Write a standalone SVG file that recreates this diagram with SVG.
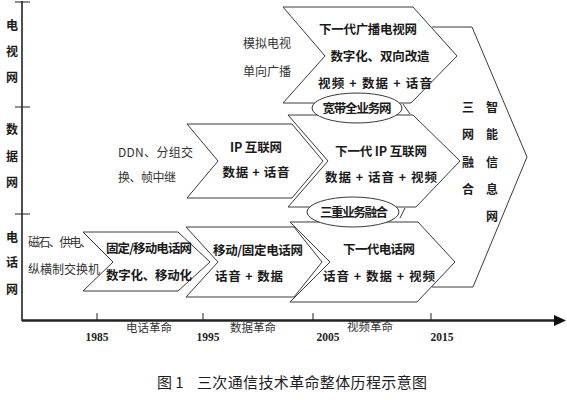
<svg xmlns="http://www.w3.org/2000/svg" width="567" height="400" viewBox="0 0 567 400">
<style>
.shape{fill:#fff;stroke:#3a3a3a;stroke-width:1}
.ax{stroke:#222;fill:none}
.t{font-family:"Noto Sans CJK SC","Noto Sans",sans-serif;fill:#1e1e1e}
.b{font-family:"Noto Sans CJK SC","Noto Sans",sans-serif;font-size:12.5px;font-weight:bold;fill:#1a1a1a;text-anchor:middle}
.bs{font-family:"Noto Sans CJK SC","Noto Sans",sans-serif;font-size:12.5px;font-weight:bold;fill:#1a1a1a}
.n{font-family:"Noto Sans CJK SC","Noto Sans",sans-serif;font-size:12px;fill:#333}
.lab{font-family:"Noto Sans CJK SC",sans-serif;font-size:12px;font-weight:bold;fill:#1a1a1a;text-anchor:middle}
.yr{font-family:"Liberation Serif","Noto Sans CJK SC",serif;font-size:11.5px;font-weight:bold;fill:#222;text-anchor:middle}
.rev{font-family:"Noto Sans CJK SC",sans-serif;font-size:11.5px;fill:#333;text-anchor:middle}
</style>
<rect width="567" height="400" fill="#fff"/>

<g id="axes">
  <line class="ax" x1="22" y1="1" x2="22" y2="321" stroke-width="1.6"/>
  <line class="ax" x1="15" y1="2" x2="30" y2="2" stroke-width="1"/>
  <line class="ax" x1="15" y1="107" x2="30" y2="107" stroke-width="1"/>
  <line class="ax" x1="15" y1="214" x2="30" y2="214" stroke-width="1"/>
  <line class="ax" x1="22" y1="320.5" x2="557" y2="320.5" stroke-width="2.4"/>
  <polygon points="554,315 566,320.5 554,326" fill="#111"/>
  <line class="ax" x1="97" y1="313" x2="97" y2="320" stroke-width="1"/>
  <line class="ax" x1="203" y1="313" x2="203" y2="320" stroke-width="1"/>
  <line class="ax" x1="313" y1="313" x2="313" y2="320" stroke-width="1"/>
  <line class="ax" x1="431" y1="313" x2="431" y2="320" stroke-width="1"/>
  <text class="lab" x="12" y="30">电</text>
  <text class="lab" x="12" y="56">视</text>
  <text class="lab" x="12" y="82">网</text>
  <text class="lab" x="12" y="134">数</text>
  <text class="lab" x="12" y="161">据</text>
  <text class="lab" x="12" y="187">网</text>
  <text class="lab" x="12" y="242">电</text>
  <text class="lab" x="12" y="267">话</text>
  <text class="lab" x="12" y="294">网</text>
  <text class="yr" x="97" y="341">1985</text>
  <text class="yr" x="208" y="341">1995</text>
  <text class="yr" x="328" y="341">2005</text>
  <text class="yr" x="442" y="341">2015</text>
  <text class="rev" x="149" y="332">电话革命</text>
  <text class="rev" x="253" y="332">数据革命</text>
  <text class="rev" x="370" y="331">视频革命</text>
</g>

<g id="smart-network">
  <path class="shape" d="M432,27 L472,27 L527,157 L473,287 L432,287"/>
  <text class="lab" x="468" y="112">三</text>
  <text class="lab" x="468" y="139">网</text>
  <text class="lab" x="468" y="167">融</text>
  <text class="lab" x="468" y="194">合</text>
  <text class="lab" x="492" y="112">智</text>
  <text class="lab" x="492" y="139">能</text>
  <text class="lab" x="492" y="167">信</text>
  <text class="lab" x="492" y="194">息</text>
  <text class="lab" x="492" y="221">网</text>
</g>

<g id="tv-next">
  <polygon class="shape" points="283,7 413,7 457,56 411,103 283,103 325,56"/>
  <text class="b" x="368" y="34" textLength="98">下一代广播电视网</text>
  <text class="b" x="380" y="61" textLength="99">数字化、双向改造</text>
  <text class="b" x="375" y="88" textLength="114">视频 + 数据 + 话音</text>
</g>

<g id="ip-next">
  <polygon class="shape" points="288,115 413,115 460,161 416,207 288,207 328,161"/>
  <text class="b" x="381" y="156" textLength="92">下一代 IP 互联网</text>
  <text class="b" x="381" y="182" textLength="112">数据 + 话音 + 视频</text>
</g>

<g id="phone-next">
  <polygon class="shape" points="290,222 418,222 455,262 417,302 290,302 330,262"/>
  <text class="b" x="379" y="254" textLength="72">下一代电话网</text>
  <text class="b" x="379" y="281" textLength="112">话音 + 数据 + 视频</text>
</g>

<g id="ip-internet">
  <polygon class="shape" points="187,124 292,124 323,161 292,198 187,198 218,161"/>
  <text class="b" x="256" y="152" textLength="52">IP 互联网</text>
  <text class="b" x="256" y="177" textLength="67">数据 + 话音</text>
</g>

<g id="phone-2">
  <polygon class="shape" points="186,227 294,227 322,262 294,297 186,297 218,262"/>
  <text class="bs" x="213" y="255" textLength="90">移动/固定电话网</text>
  <text class="bs" x="215" y="281" textLength="68">话音 + 数据</text>
</g>

<g id="phone-1">
  <polygon class="shape" points="83,232 178,232 210,262 178,291 83,291 113,262"/>
  <text class="bs" x="106" y="253" textLength="86">固定/移动电话网</text>
  <text class="bs" x="106" y="280" textLength="86">数字化、移动化</text>
</g>

<g id="connectors">
  <line x1="403" y1="104" x2="410" y2="114" stroke="#3a3a3a" stroke-width="1"/>
  <line x1="400" y1="218" x2="405" y2="208" stroke="#3a3a3a" stroke-width="1"/>
</g>

<g id="broadband">
  <ellipse class="shape" cx="357" cy="108" rx="45" ry="15"/>
  <text class="b" x="357" y="113" font-size="11.5" textLength="69">宽带全业务网</text>
</g>

<g id="triple-play">
  <ellipse class="shape" cx="353" cy="212" rx="46" ry="15"/>
  <text class="b" x="354" y="217" font-size="11.5" textLength="68">三重业务融合</text>
</g>

<g id="legacy-texts">
  <text class="n" x="243" y="48">模拟电视</text>
  <text class="n" x="243" y="76">单向广播</text>
  <text class="n" x="118" y="157" textLength="75">DDN、分组交</text>
  <text class="n" x="118" y="182" textLength="58">换、帧中继</text>
  <text class="n" x="28" y="247" font-size="11.5" textLength="64">磁石、供电、</text>
  <text class="n" x="28" y="274" font-size="11.5" textLength="72">纵横制交换机</text>
</g>

<g id="caption">
  <text class="t" x="157" y="388" font-size="15">图 1</text>
  <text class="t" x="197" y="388" font-size="15" textLength="230">三次通信技术革命整体历程示意图</text>
</g>
</svg>
